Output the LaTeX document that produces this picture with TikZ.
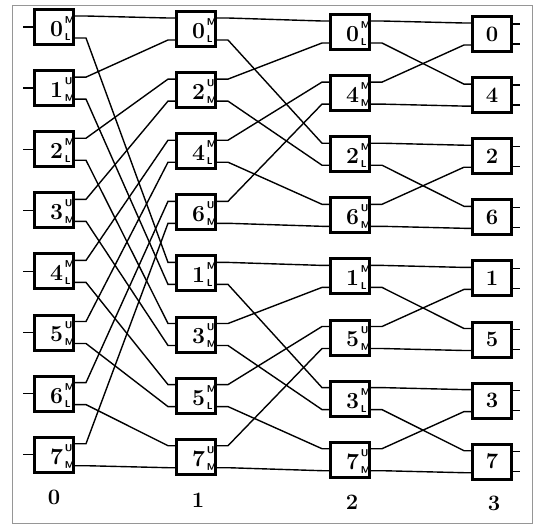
\documentclass[tikz,border=0pt]{standalone}
\usepackage{tikz}
\usetikzlibrary{calc}
\definecolor{FrameGray}{RGB}{150,150,150}
\newcommand{\tagfont}{\sffamily\bfseries\fontsize{10}{10}\selectfont}
% digit with upper and lower tag
\newcommand{\pe}[3]{\hspace{7pt}#1\hspace{2pt}\rlap{\raisebox{13pt}{\tagfont #2}}\rlap{\raisebox{-4pt}{\tagfont #3}}\hspace{8pt}}

\begin{document}
\begin{tikzpicture}[x=1pt,y=-1pt,line width=1.4pt,
    pebox/.style={draw,line width=3pt,minimum width=39pt,minimum height=35pt,inner sep=0pt,
      font=\bfseries\fontsize{23}{23}\selectfont,text height=18.8pt,text depth=0pt},
    endbox/.style={draw,line width=3pt,minimum width=39pt,minimum height=35pt,inner sep=0pt,
      font=\bfseries\fontsize{22}{22}\selectfont,text height=14pt,text depth=0pt},
    colnum/.style={font=\bfseries\fontsize{22}{22}\selectfont}]
  \useasboundingbox (0,0) rectangle (536,528);
  \draw[FrameGray,line width=0.5pt] (12,5) rectangle (532,523);

  % the four columns
  \foreach \n/\s/\t [count=\i from 0] in {0/M/L,1/U/M,2/M/L,3/U/M,4/M/L,5/U/M,6/M/L,7/U/M}
    \node[pebox] (a\i) at (54,27+61.1*\i) {\pe{\n}{\s}{\t}};
  \foreach \n/\s/\t [count=\i from 0] in {0/M/L,2/U/M,4/M/L,6/U/M,1/M/L,3/U/M,5/M/L,7/U/M}
    \node[pebox] (b\i) at (196,29+61.1*\i) {\pe{\n}{\s}{\t}};
  \foreach \n/\s/\t [count=\i from 0] in {0/M/L,4/M/M,2/M/L,6/U/M,1/M/L,5/U/M,3/M/L,7/U/M}
    \node[pebox] (c\i) at (350,32+61.1*\i) {\pe{\n}{\s}{\t}};
  \foreach \n [count=\i from 0] in {0,4,2,6,1,5,3,7}
    \node[endbox] (d\i) at (492,34+61.1*\i) {\n};

  \node[colnum] (n0) at (54,497) {0};
  \node[colnum] (n1) at (198,500) {1};
  \node[colnum] (n2) at (352,502) {2};
  \node[colnum] (n3) at (494,503) {3};

  % in and out stubs
  \foreach \i in {0,...,7}{
    \draw (a\i.west) -- ++(-10,0);
    \draw ([yshift=10pt]d\i.east) -- ++(7,0);
    \draw ([yshift=-10pt]d\i.east) -- ++(7,0);
  }

  % shuffle wires
  \foreach \from/\to/\h in {a/b/4,b/c/2,c/d/1}
    \foreach \j in {0,...,7}{
      \pgfmathtruncatemacro\g{2*\h*floor(\j/(2*\h))}
      \pgfmathtruncatemacro\k{\j-\g}
      \pgfmathtruncatemacro\up{\g+floor(\k/2)}
      \pgfmathtruncatemacro\dn{\g+\h+floor(\k/2)}
      \pgfmathtruncatemacro\port{ifthenelse(mod(\k,2)==0,11,-11)}
      \draw ([yshift=11pt]\from\j.east) -- ++(11,0) -- ([xshift=-7pt,yshift=\port pt]\to\up.west) -- ([yshift=\port pt]\to\up.west);
      \draw ([yshift=-11pt]\from\j.east) -- ++(11,0) -- ([xshift=-7pt,yshift=\port pt]\to\dn.west) -- ([yshift=\port pt]\to\dn.west);
    }
\end{tikzpicture}
\end{document}
